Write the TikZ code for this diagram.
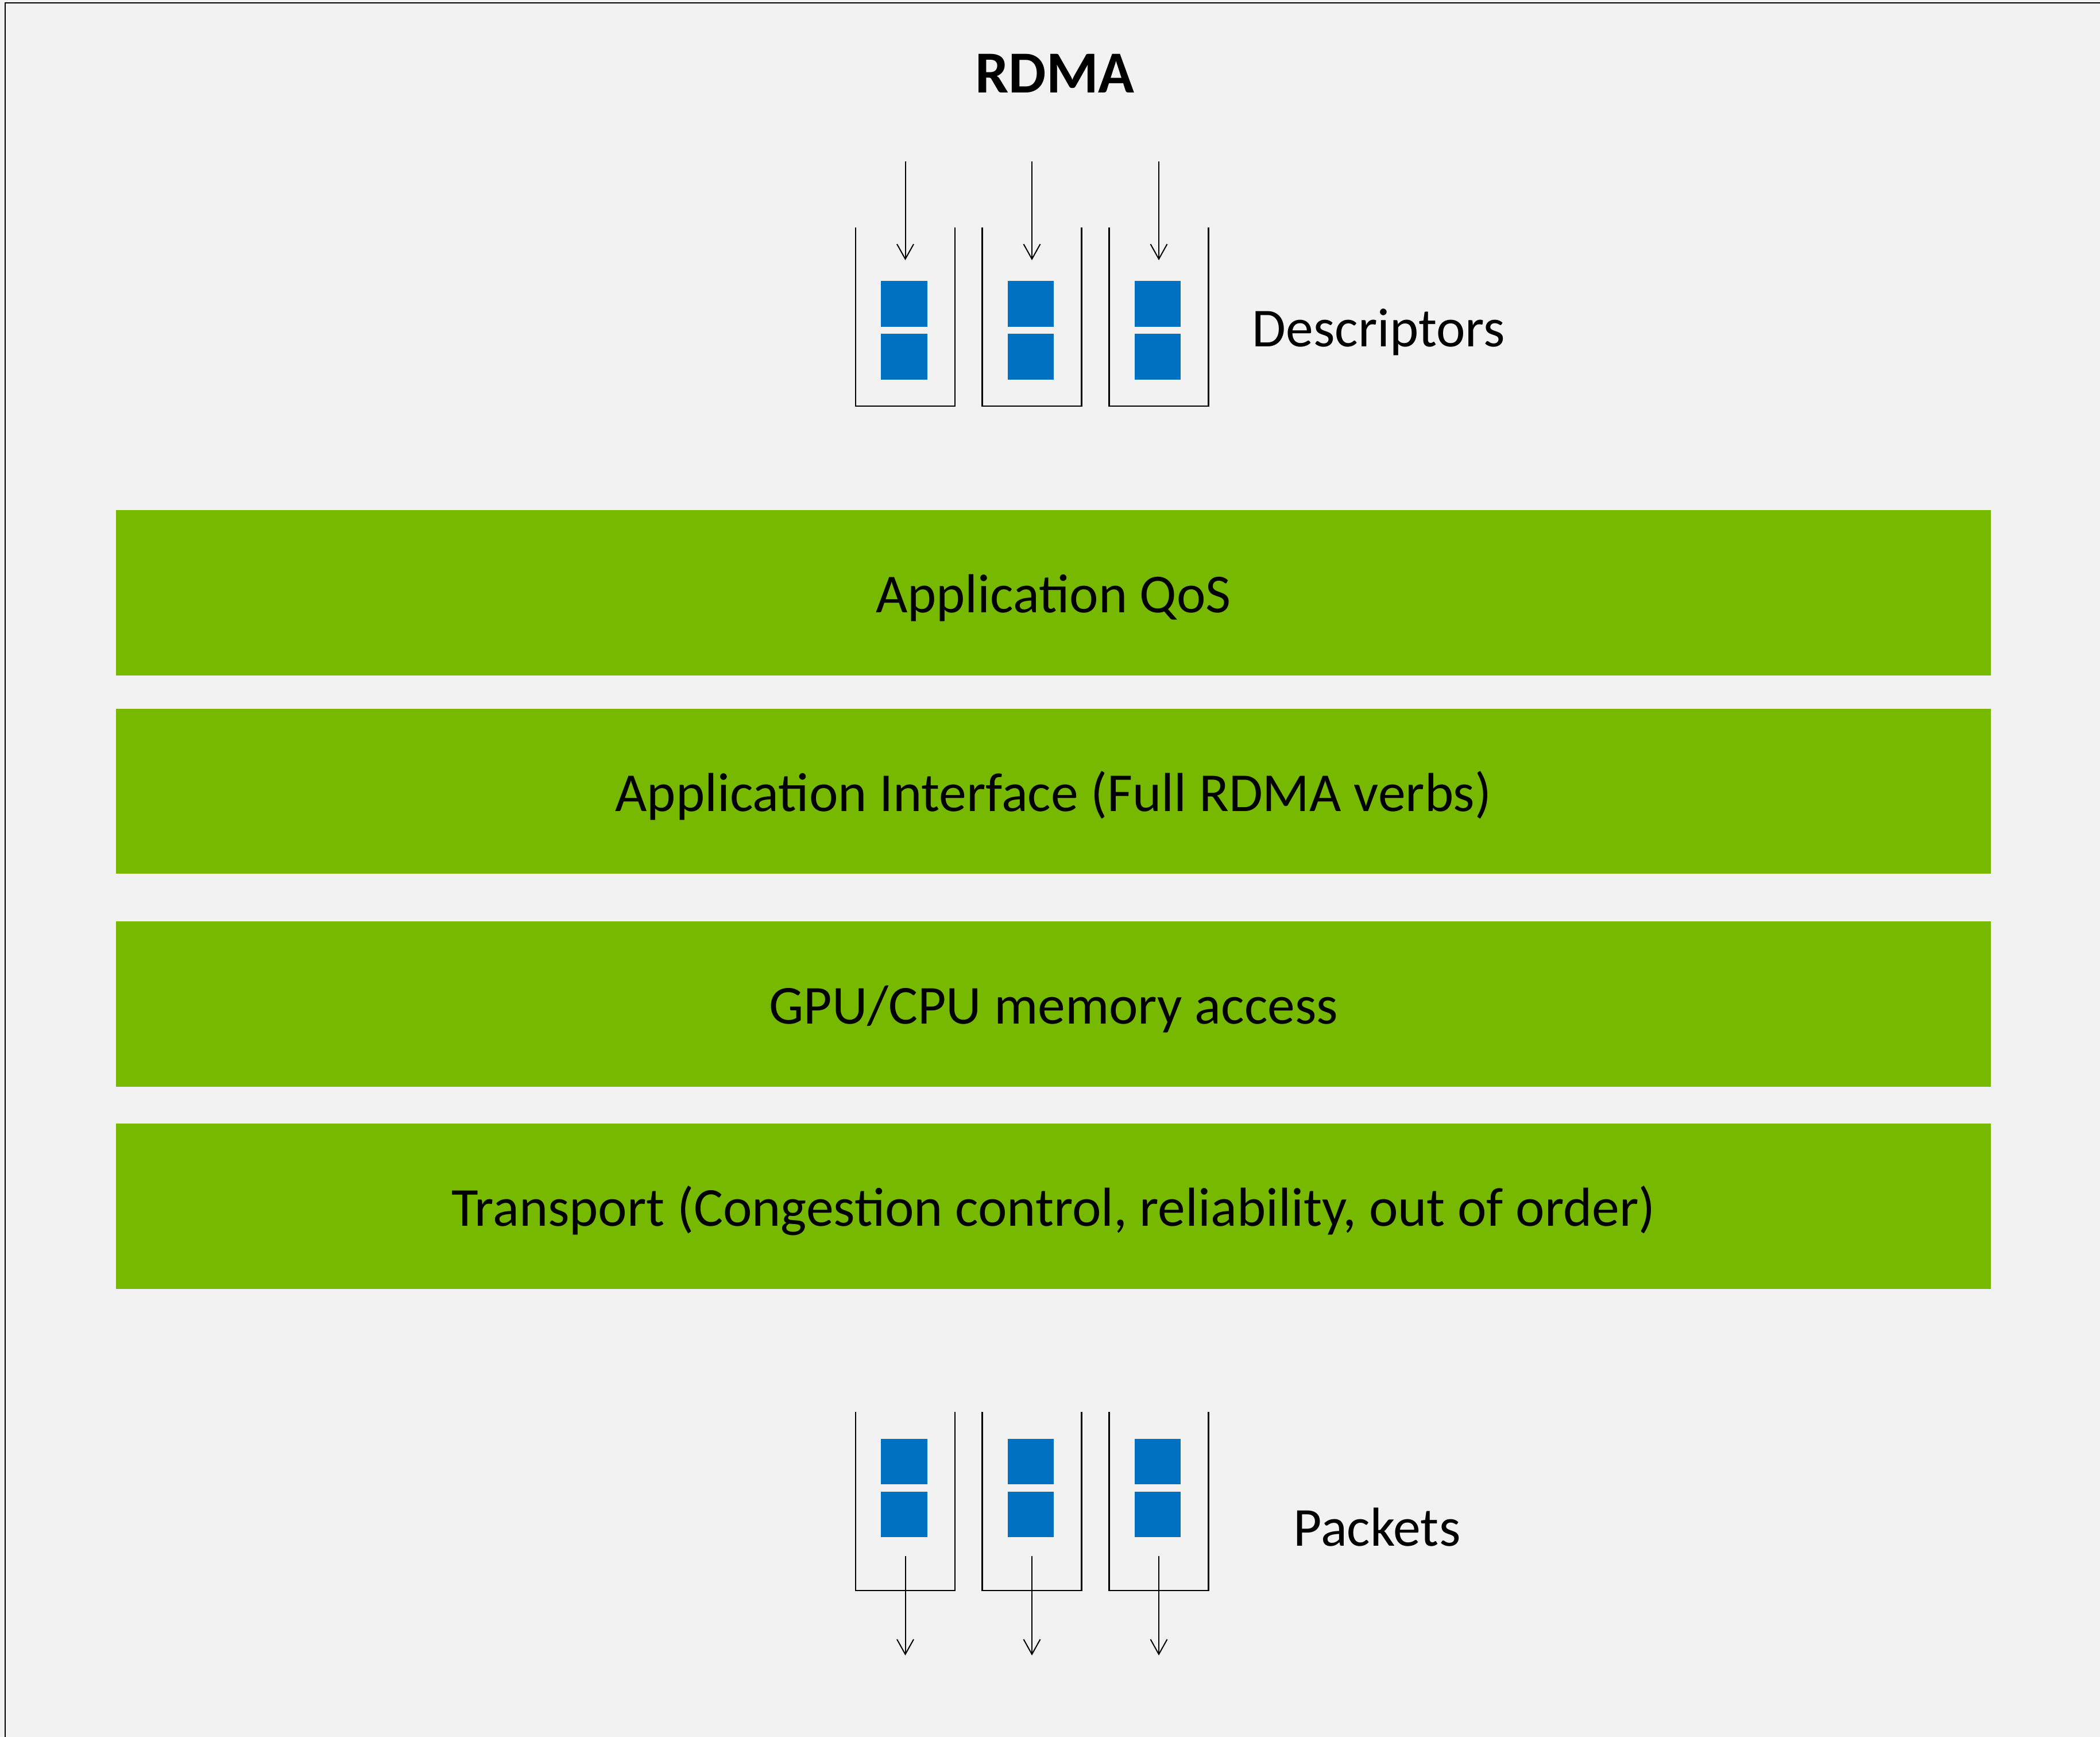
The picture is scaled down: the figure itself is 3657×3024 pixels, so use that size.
\documentclass[tikz,border=0pt]{standalone}
\usepackage{fontspec}
\setmainfont{Carlito}
\usetikzlibrary{arrows.meta}
\definecolor{bgc}{HTML}{F2F2F2}
\definecolor{nvgreen}{HTML}{76B900}
\definecolor{qblue}{HTML}{0070C0}
\tikzset{
  layer/.style={fill=nvgreen, draw=none, minimum width=32.63cm, minimum height=2.87cm,
    inner sep=0pt, text height=0.69cm, text depth=0pt, font=\fontsize{27.2}{33}\selectfont},
  lbl/.style={inner sep=0pt, font=\fontsize{27.2}{33}\selectfont},
  item/.style={fill=qblue, draw=none, minimum width=0.8cm, minimum height=0.79cm, inner sep=0pt},
  wall/.style={line width=0.025cm, line cap=rect},
  arr/.style={line width=0.02cm, -{Straight Barb[length=0.26cm,width=0.29cm]}}
}
\begin{document}
\begin{tikzpicture}[x=0.01cm,y=-0.01cm]
\useasboundingbox (0,0) rectangle (3657,3024);
\fill[bgc] (0,0) rectangle (3657,3024);
\draw[line width=0.025cm] (9,3024) -- (9,5) -- (3657,5);

\node[inner sep=0pt, anchor=base, font=\fontsize{29.5}{35}\selectfont\bfseries] (title) at (1837,161) {RDMA};

% layers
\node[layer] (qos) at (1834.5,1032) {Application QoS};
\node[layer] (api) at (1834.5,1377.5) {Application Interface (Full RDMA verbs)};
\node[layer] (mem) at (1834.5,1748) {GPU/CPU memory access};
\node[layer] (trn) at (1834.5,2100) {Transport (Congestion control, reliability, out of order)};

% descriptor queues (top)
\foreach \i/\c in {1/1576.5,2/1797,3/2018}{
  \draw[wall] (\c-86.5,397) -- (\c-86.5,707) -- (\c+86.5,707) -- (\c+86.5,397);
  \node[item] (dq\i a) at (\c-2,529) {};
  \node[item] (dq\i b) at (\c-2,621) {};
  \coordinate (din\i) at (\c,281);
  \coordinate (dout\i) at (\c,453);
  \draw[arr] (din\i) -- (dout\i);
}
\node[lbl, anchor=base west] (desc) at (2180,603) {Descriptors};

% packet queues (bottom)
\foreach \i/\c in {1/1576.5,2/1797,3/2018}{
  \draw[wall] (\c-86.5,2459) -- (\c-86.5,2769) -- (\c+86.5,2769) -- (\c+86.5,2459);
  \node[item] (pq\i a) at (\c-2,2544) {};
  \node[item] (pq\i b) at (\c-2,2636) {};
  \coordinate (pin\i) at (\c,2709);
  \coordinate (pout\i) at (\c,2882);
  \draw[arr] (pin\i) -- (pout\i);
}
\node[lbl, anchor=base west] (pkt) at (2252,2691) {Packets};
\end{tikzpicture}
\end{document}
